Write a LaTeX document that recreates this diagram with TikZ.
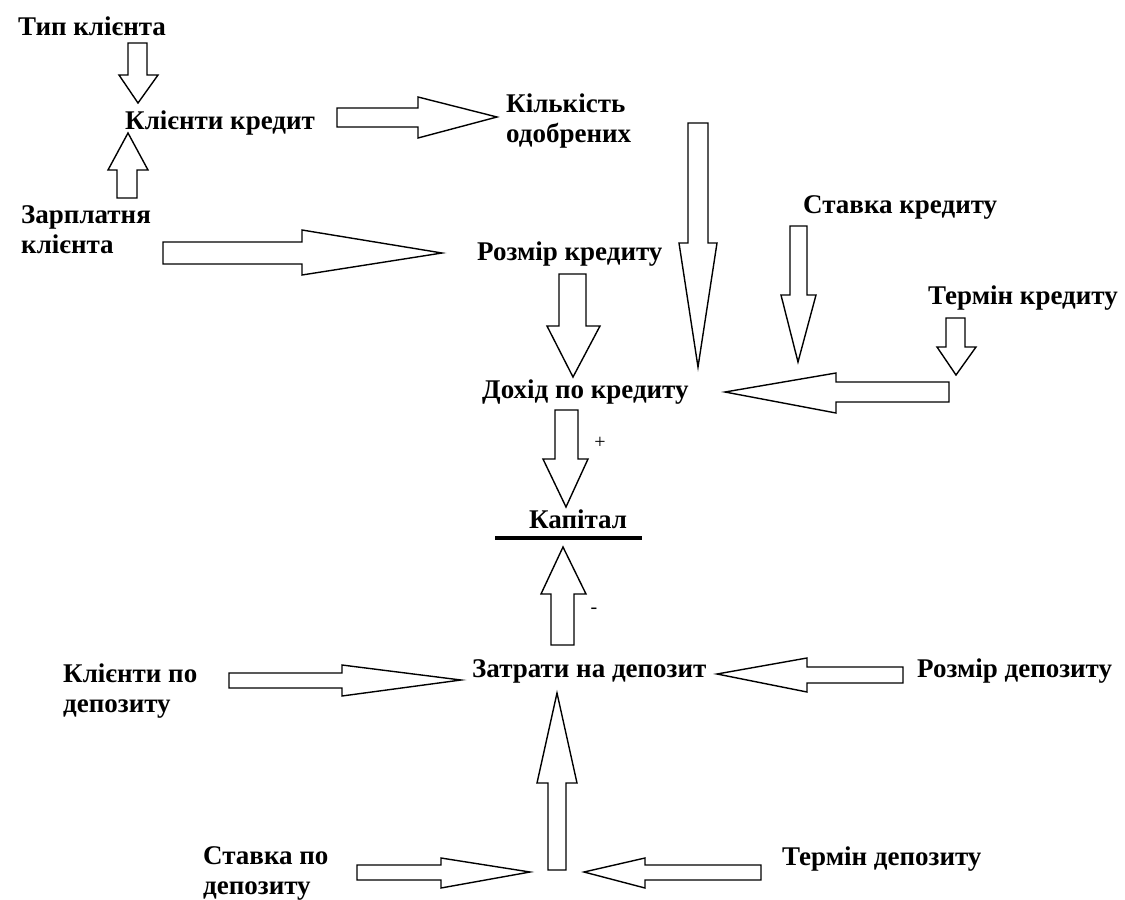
\documentclass[tikz,border=0pt]{standalone}
\usepackage{fontspec}
\setmainfont{Liberation Serif}
\tikzset{
  lbl/.style={inner sep=0pt, anchor=base west, font=\bfseries\fontsize{27}{30}\selectfont, align=left},
  sgn/.style={inner sep=0pt, font=\fontsize{20}{22}\selectfont},
  barrow/.style={draw=black, line width=1.4pt, fill=white, line join=miter},
}
\begin{document}
\begin{tikzpicture}[x=1pt,y=-1pt]
\useasboundingbox (0,0) rectangle (1125,900);
% labels (multi-line nodes: base = baseline of last line)
\node[lbl] (tip) at (18,35) {Тип клієнта};
\node[lbl] (kk) at (125,129) {Клієнти кредит};
\node[lbl] (zarp) at (21,253) {Зарплатня\\клієнта};
\node[lbl] (kilk) at (506,142) {Кількість\\одобрених};
\node[lbl] (rozk) at (477,260) {Розмір кредиту};
\node[lbl] (stk) at (803,213) {Ставка кредиту};
\node[lbl] (terk) at (928,304) {Термін кредиту};
\node[lbl] (doh) at (482,398) {Дохід по кредиту};
\node[lbl] (kap) at (529,528) {Капітал};
\node[lbl] (zatr) at (472,677) {Затрати на депозит};
\node[lbl] (rozd) at (917,677) {Розмір депозиту};
\node[lbl] (kpd) at (63,712) {Клієнти по\\депозиту};
\node[lbl] (spd) at (203,894) {Ставка по\\депозиту};
\node[lbl] (terd) at (782,865) {Термін депозиту};
\node[sgn] (plus) at (600,443) {+};
\node[sgn] (minus) at (594,611) {-};
% capital line
\draw[line width=4pt] (495,538) coordinate (capl) -- (642,538) coordinate (capr);
% block arrows
% 1 Тип -> Клієнти кредит (down)
\draw[barrow] (128,43) -- (147,43) -- (147,75) -- (158,75) -- (138,103) -- (119,75) -- (128,75) -- cycle;
% 2 Зарплатня -> Клієнти кредит (up)
\draw[barrow] (128,133) -- (148,170) -- (137,170) -- (137,198) -- (117,198) -- (117,170) -- (108,170) -- cycle;
% 3 Зарплатня -> Розмір кредиту (right)
\draw[barrow] (163,242) -- (302,242) -- (302,230) -- (442,253) -- (302,275) -- (302,264) -- (163,264) -- cycle;
% 4 Клієнти кредит -> Кількість (right)
\draw[barrow] (337,108) -- (418,108) -- (418,97) -- (497,117) -- (418,138) -- (418,127) -- (337,127) -- cycle;
% 5 Кількість -> Дохід (long down)
\draw[barrow] (688,123) -- (708,123) -- (708,243) -- (717,243) -- (698,367) -- (679,243) -- (688,243) -- cycle;
% 6 Розмір кредиту -> Дохід (down)
\draw[barrow] (559,274) -- (586,274) -- (586,326) -- (600,326) -- (573,377) -- (547,326) -- (559,326) -- cycle;
% 7 Ставка кредиту (down)
\draw[barrow] (790,226) -- (807,226) -- (807,295) -- (816,295) -- (798,362) -- (781,295) -- (790,295) -- cycle;
% 8 Термін кредиту (small down)
\draw[barrow] (946,318) -- (965,318) -- (965,347) -- (976,347) -- (956,375) -- (937,347) -- (946,347) -- cycle;
% 9 -> Дохід (left)
\draw[barrow] (949,382) -- (836,382) -- (836,373) -- (725,392) -- (836,413) -- (836,402) -- (949,402) -- cycle;
% 10 Дохід -> Капітал (down)
\draw[barrow] (555,410) -- (578,410) -- (578,459) -- (588,459) -- (566,507) -- (543,459) -- (555,459) -- cycle;
% 11 Затрати -> Капітал (up)
\draw[barrow] (563,547) -- (586,594) -- (574,594) -- (574,645) -- (551,645) -- (551,594) -- (541,594) -- cycle;
% 12 Клієнти по депозиту -> Затрати (right)
\draw[barrow] (229,673) -- (342,673) -- (342,665) -- (461,680) -- (342,696) -- (342,688) -- (229,688) -- cycle;
% 13 Розмір депозиту -> Затрати (left)
\draw[barrow] (903,667) -- (807,667) -- (807,658) -- (717,674) -- (807,692) -- (807,683) -- (903,683) -- cycle;
% 14 long up -> Затрати
\draw[barrow] (557,693) -- (577,783) -- (566,783) -- (566,870) -- (548,870) -- (548,783) -- (537,783) -- cycle;
% 15 Ставка по депозиту (right)
\draw[barrow] (357,865) -- (441,865) -- (441,858) -- (530,872) -- (441,888) -- (441,880) -- (357,880) -- cycle;
% 16 Термін депозиту (left)
\draw[barrow] (761,865) -- (645,865) -- (645,858) -- (584,872) -- (645,888) -- (645,880) -- (761,880) -- cycle;
\end{tikzpicture}
\end{document}
